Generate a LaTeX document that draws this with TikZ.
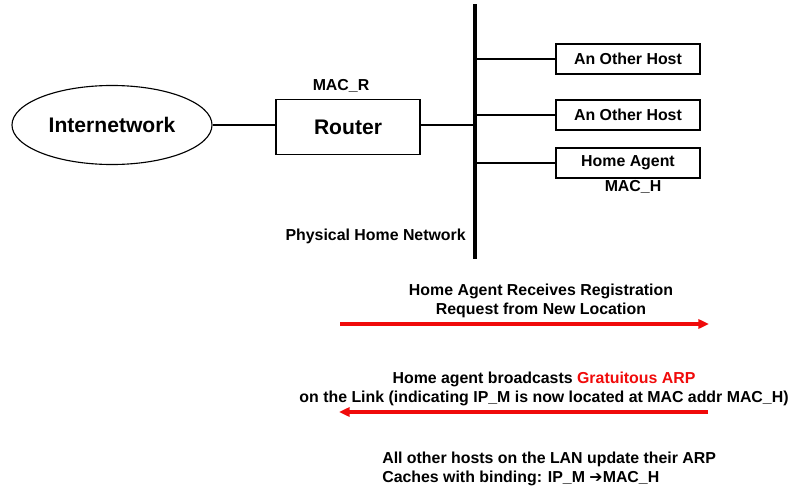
\documentclass[tikz,border=0pt]{standalone}
\usepackage{fontspec}
\setmainfont{Liberation Sans}
\newfontfamily\symfont{DejaVu Sans}
\usetikzlibrary{shapes.geometric,arrows.meta}
\definecolor{arpred}{RGB}{240,10,10}
\tikzset{
  lbl/.style={font=\bfseries\fontsize{11.3}{13.6}\selectfont,inner sep=0pt},
  biglbl/.style={font=\bfseries\fontsize{15}{18}\selectfont},
  hostbox/.style={draw,line width=0.8pt,minimum width=3.6cm,minimum height=0.75cm,
    inner sep=0pt,font=\bfseries\fontsize{11.3}{13.6}\selectfont},
  link/.style={line width=1.5pt},
  msg/.style={arpred,line width=2.2pt,-{Triangle[length=7.5pt,width=6.5pt]}}
}
\begin{document}
\begin{tikzpicture}[x=0.025cm,y=-0.025cm]
  \useasboundingbox (0,0) rectangle (791,493);
  % home network side
  \node[draw,ellipse,line width=0.8pt,minimum width=5cm,minimum height=1.975cm,biglbl] (inet) at (112,125) {Internetwork};
  \node[draw,line width=0.8pt,minimum width=3.6cm,minimum height=1.375cm,biglbl] (router) at (348,127) {Router};
  \node[lbl] (macr) at (341,86) {MAC\_R};
  \coordinate (bustop) at (475,4);
  \coordinate (busbot) at (475,259);
  \draw[line width=2.8pt] (bustop) -- (busbot);
  \node[hostbox] (host1) at (628,59) {An Other Host};
  \node[hostbox] (host2) at (628,115) {An Other Host};
  \node[hostbox] (ha) at (628,163) {Home Agent};
  \node[lbl] (mach) at (633,187) {MAC\_H};
  \node[lbl,anchor=east] (phys) at (466,236) {Physical Home Network};
  \draw[link] (inet.east) -- (inet.east -| router.west);
  \draw[link] (router.east |- 0,125) -- (bustop |- 0,125);
  \draw[link] (host1.west -| bustop) -- (host1.west);
  \draw[link] (host2.west -| bustop) -- (host2.west);
  \draw[link] (ha.west -| bustop) -- (ha.west);
  % messages
  \node[lbl,align=center] (reg) at (541,301) {Home Agent Receives Registration\\Request from New Location};
  \coordinate (r1a) at (340,324);
  \coordinate (r1b) at (709,324);
  \draw[msg] (r1a) -- (r1b);
  \node[lbl,align=center] (garp) at (544,389) {Home agent broadcasts \textcolor{arpred}{Gratuitous ARP}\\on the Link (indicating IP\_M is now located at MAC addr MAC\_H)};
  \coordinate (r2a) at (708,412);
  \coordinate (r2b) at (339,412);
  \draw[msg] (r2a) -- (r2b);
  \node[lbl,align=left,anchor=west] (upd) at (382,469) {All other hosts on the LAN update their ARP\\Caches with binding: IP\_M {\symfont\bfseries ➔}MAC\_H};
\end{tikzpicture}
\end{document}
